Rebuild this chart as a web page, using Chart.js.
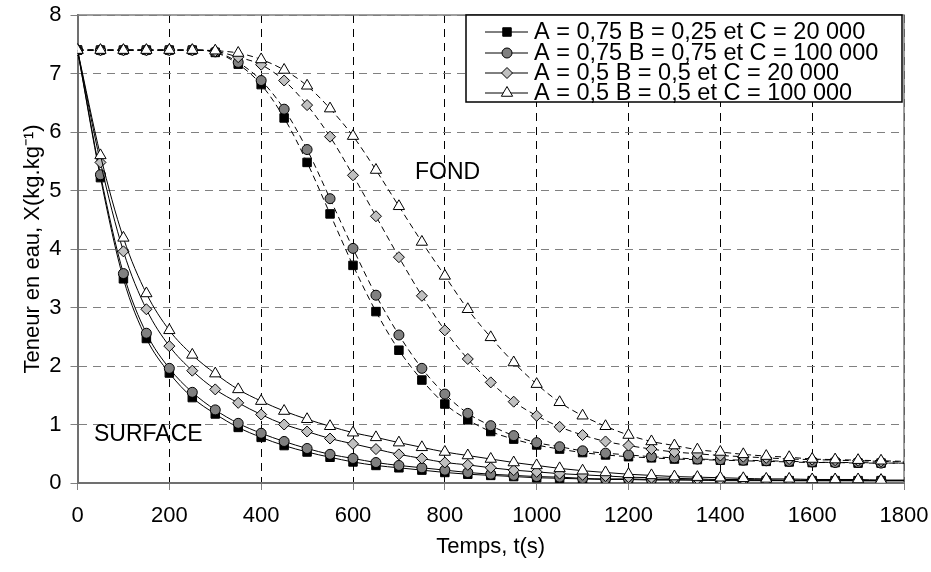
<!DOCTYPE html>
<html>
<head>
<meta charset="utf-8">
<script src="https://cdn.jsdelivr.net/npm/chart.js@4"></script>
<style>
  html, body { margin: 0; padding: 0; background: #fff; }
  #cadre { width: 931px; height: 572px; }
</style>
</head>
<body>
<div id="cadre"><canvas id="graphe" width="931" height="572"></canvas></div>
<script>
// temps (s)
const temps = [0, 50, 100, 150, 200, 250, 300, 350, 400, 450, 500, 550, 600, 650, 700, 750, 800, 850, 900,
  950, 1000, 1050, 1100, 1150, 1200, 1250, 1300, 1350, 1400, 1450, 1500, 1550, 1600, 1650, 1700, 1750, 1800];

const legendes = [
  "A = 0,75 B = 0,25 et C = 20 000",
  "A = 0,75 B = 0,75 et C = 100 000",
  "A = 0,5 B = 0,5 et C = 20 000",
  "A = 0,5 B = 0,5 et C = 100 000"
];

// surface
const surfCarre = [7.4, 5.22, 3.49, 2.47, 1.88, 1.46, 1.18, 0.95, 0.78, 0.64, 0.53, 0.44, 0.36, 0.30, 0.26, 0.22, 0.18, 0.15, 0.13,
  0.11, 0.09, 0.08, 0.07, 0.06, 0.06, 0.05, 0.05, 0.05, 0.04, 0.04, 0.04, 0.04, 0.04, 0.04, 0.04, 0.04, 0.04];
const surfRond = [7.4, 5.27, 3.58, 2.56, 1.96, 1.55, 1.25, 1.02, 0.85, 0.71, 0.59, 0.49, 0.42, 0.35, 0.30, 0.26, 0.22, 0.18, 0.15,
  0.13, 0.11, 0.10, 0.08, 0.07, 0.07, 0.06, 0.06, 0.05, 0.05, 0.05, 0.05, 0.04, 0.04, 0.04, 0.04, 0.04, 0.04];
const surfLosange = [7.4, 5.48, 3.96, 2.97, 2.34, 1.92, 1.60, 1.37, 1.17, 1.00, 0.88, 0.76, 0.67, 0.58, 0.49, 0.42, 0.35, 0.31, 0.26,
  0.22, 0.19, 0.16, 0.14, 0.12, 0.10, 0.09, 0.08, 0.07, 0.06, 0.06, 0.05, 0.05, 0.05, 0.05, 0.04, 0.04, 0.04];
const surfTriangle = [7.4, 5.6, 4.19, 3.24, 2.61, 2.19, 1.87, 1.60, 1.40, 1.23, 1.09, 0.97, 0.86, 0.78, 0.69, 0.61, 0.53, 0.47, 0.41,
  0.35, 0.30, 0.25, 0.21, 0.18, 0.15, 0.13, 0.11, 0.10, 0.09, 0.08, 0.07, 0.07, 0.06, 0.06, 0.06, 0.05, 0.05];

// fond
const fondCarre = [7.4, 7.4, 7.4, 7.4, 7.4, 7.4, 7.36, 7.16, 6.81, 6.24, 5.48, 4.60, 3.72, 2.93, 2.27, 1.76, 1.35, 1.08, 0.88,
  0.75, 0.65, 0.58, 0.52, 0.48, 0.45, 0.43, 0.41, 0.40, 0.39, 0.38, 0.37, 0.36, 0.35, 0.35, 0.34, 0.34, 0.34];
const fondRond = [7.4, 7.4, 7.4, 7.4, 7.4, 7.4, 7.37, 7.19, 6.88, 6.39, 5.70, 4.86, 4.01, 3.21, 2.53, 1.96, 1.52, 1.19, 0.98,
  0.81, 0.69, 0.62, 0.55, 0.51, 0.48, 0.45, 0.43, 0.41, 0.40, 0.39, 0.38, 0.37, 0.36, 0.35, 0.35, 0.34, 0.34];
const fondLosange = [7.4, 7.4, 7.4, 7.4, 7.4, 7.4, 7.38, 7.28, 7.15, 6.88, 6.46, 5.92, 5.26, 4.56, 3.86, 3.20, 2.61, 2.12, 1.72,
  1.39, 1.15, 0.96, 0.82, 0.71, 0.64, 0.58, 0.53, 0.50, 0.47, 0.45, 0.43, 0.41, 0.40, 0.39, 0.38, 0.37, 0.36];
const fondTriangle = [7.4, 7.4, 7.4, 7.4, 7.4, 7.4, 7.39, 7.35, 7.24, 7.06, 6.79, 6.40, 5.93, 5.35, 4.73, 4.12, 3.54, 2.97, 2.49,
  2.06, 1.69, 1.38, 1.15, 0.97, 0.82, 0.71, 0.64, 0.57, 0.53, 0.49, 0.46, 0.44, 0.41, 0.40, 0.39, 0.38, 0.37];

const police = '"Liberation Sans", Arial, sans-serif';

const marqueurs = [
  { forme: 'rect', r: 6, fond: '#000000' },
  { forme: 'circle', r: 5, fond: '#808080' },
  { forme: 'rectRot', r: 5.5, fond: '#c0c0c0' },
  { forme: 'triangle', r: 6.5, fond: '#ffffff' }
];

function serie(label, valeurs, i, pointille) {
  const m = marqueurs[i];
  return {
    label: label,
    data: temps.map((t, k) => ({ x: t, y: valeurs[k] })),
    borderColor: '#000',
    borderWidth: 1,
    borderDash: pointille ? [6, 4] : [],
    pointStyle: m.forme,
    pointRadius: ctx => temps[ctx.dataIndex] === 1800 ? 0 : m.r,
    pointBackgroundColor: m.fond,
    pointBorderColor: '#000',
    pointBorderWidth: 1,
    cubicInterpolationMode: 'monotone',
    fill: false,
    order: 4 - i
  };
}

const datasets = [
  serie(legendes[0], surfCarre, 0, false),
  serie(legendes[1], surfRond, 1, false),
  serie(legendes[2], surfLosange, 2, false),
  serie(legendes[3], surfTriangle, 3, false),
  serie(legendes[0], fondCarre, 0, true),
  serie(legendes[1], fondRond, 1, true),
  serie(legendes[2], fondLosange, 2, true),
  serie(legendes[3], fondTriangle, 3, true)
];

function dessineMarqueur(ctx, m, x, y) {
  const r = m.r;
  ctx.beginPath();
  if (m.forme === 'rect') {
    const s = r * Math.SQRT1_2;
    ctx.rect(x - s, y - s, 2 * s, 2 * s);
  } else if (m.forme === 'circle') {
    ctx.arc(x, y, r, 0, Math.PI * 2);
  } else if (m.forme === 'rectRot') {
    ctx.moveTo(x, y - r); ctx.lineTo(x + r, y); ctx.lineTo(x, y + r); ctx.lineTo(x - r, y);
    ctx.closePath();
  } else {
    ctx.moveTo(x, y - r);
    ctx.lineTo(x + r * Math.sin(Math.PI / 3), y + r / 2);
    ctx.lineTo(x - r * Math.sin(Math.PI / 3), y + r / 2);
    ctx.closePath();
  }
  ctx.fillStyle = m.fond;
  ctx.fill();
  ctx.lineWidth = 1;
  ctx.strokeStyle = '#000';
  ctx.stroke();
}

const notes = [
  { texte: 'FOND', x: 735, y: 5.3 },
  { texte: 'SURFACE', x: 36, y: 0.82 }
];

const habillage = {
  id: 'habillage',
  beforeDatasetsDraw(chart) {
    const { ctx, chartArea: a } = chart;
    ctx.save();
    ctx.strokeStyle = '#808080';
    ctx.lineWidth = 1.5;
    ctx.beginPath();
    ctx.moveTo(a.left, a.top);
    ctx.lineTo(a.right, a.top);
    ctx.lineTo(a.right, a.bottom);
    ctx.stroke();
    ctx.restore();
  },
  afterDatasetsDraw(chart) {
    const { ctx, scales } = chart;
    ctx.save();
    ctx.fillStyle = '#000';
    ctx.font = '23px ' + police;
    ctx.textAlign = 'left';
    ctx.textBaseline = 'middle';
    notes.forEach(n => ctx.fillText(n.texte, scales.x.getPixelForValue(n.x), scales.y.getPixelForValue(n.y)));

    // legende encadree
    const g = 466, h = 15, d = 902, b = 102;
    ctx.fillStyle = '#fff';
    ctx.fillRect(g, h, d - g, b - h);
    ctx.strokeStyle = '#000';
    ctx.lineWidth = 1.5;
    ctx.strokeRect(g, h, d - g, b - h);
    ctx.font = '23.5px ' + police;
    const lignes = [32, 53, 73, 93];
    legendes.forEach((txt, i) => {
      const y = lignes[i];
      ctx.strokeStyle = '#000';
      ctx.lineWidth = 1;
      ctx.beginPath();
      ctx.moveTo(485, y);
      ctx.lineTo(528, y);
      ctx.stroke();
      dessineMarqueur(ctx, marqueurs[i], 507, y);
      ctx.fillStyle = '#000';
      ctx.fillText(txt, 534, y + 1);
    });
    ctx.restore();
  }
};

new Chart(document.getElementById('graphe').getContext('2d'), {
  type: 'line',
  data: { datasets: datasets },
  plugins: [habillage],
  options: {
    responsive: false,
    animation: false,
    events: [],
    layout: { padding: { top: 15, right: 27, bottom: 0, left: 0 } },
    plugins: { legend: { display: false }, tooltip: { enabled: false } },
    scales: {
      x: {
        type: 'linear',
        min: 0,
        max: 1800,
        ticks: { stepSize: 200, color: '#000', font: { family: police, size: 22 }, padding: 13, maxRotation: 0, callback: v => String(v) },
        grid: { color: '#000', lineWidth: 1, tickLength: 7, tickColor: '#808080', tickBorderDash: [] },
        border: { color: '#707070', width: 2, dash: [8, 6] },
        title: { display: true, text: 'Temps, t(s)', color: '#000', font: { family: police, size: 22 }, padding: { top: 0, bottom: 12 } },
        afterFit: s => { s.height = 89; s.paddingLeft = 0; s.paddingRight = 0; }
      },
      y: {
        min: 0,
        max: 8,
        ticks: { stepSize: 1, color: '#000', font: { family: police, size: 22 }, padding: 9, callback: v => String(v) },
        grid: { color: '#808080', lineWidth: 1, tickLength: 7, tickColor: '#808080', tickBorderDash: [] },
        border: { color: '#707070', width: 2, dash: [8, 6] },
        title: { display: true, text: 'Teneur en eau, X(kg.kg⁻¹)', color: '#000', font: { family: police, size: 22 }, padding: { top: 20, bottom: 0 } },
        afterFit: s => { s.width = 77.5; s.paddingTop = 0; s.paddingBottom = 0; }
      }
    }
  }
});
</script>
</body>
</html>
